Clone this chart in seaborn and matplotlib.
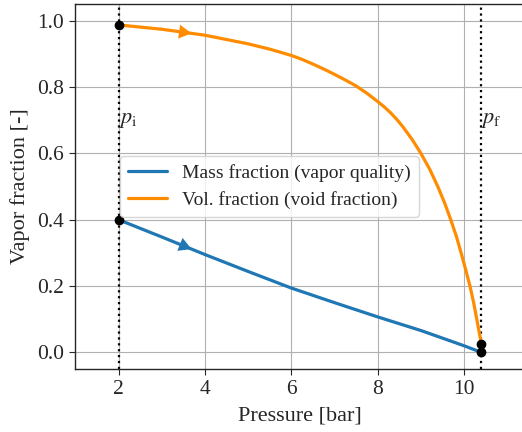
import numpy as np
import pandas as pd
import matplotlib
matplotlib.use("Agg")
import matplotlib.pyplot as plt
import seaborn as sns

# Initial and final pressures [bar]
p_initial = 2.0
p_final = 10.4

# Mass fraction (vapor quality) along the process
mass_p = [2.0, 3.0, 4.0, 5.0, 6.0, 7.0, 8.0, 9.0, 10.0, 10.4]
mass_frac = [0.400, 0.348, 0.295, 0.244, 0.194, 0.150, 0.107, 0.066, 0.020, 0.0]

# Volume fraction (void fraction) along the process
vol_p = [2.0, 3.0, 4.0, 5.0, 5.5, 6.0, 6.25, 6.5, 6.75, 7.0, 7.25, 7.5, 7.75,
         8.0, 8.15, 8.3, 8.45, 8.6, 8.8, 8.98, 9.2, 9.39, 9.55, 9.69, 9.82,
         9.93, 10.035, 10.135, 10.22, 10.29, 10.345, 10.4]
vol_frac = [0.987, 0.974, 0.956, 0.930, 0.914, 0.895, 0.883, 0.869, 0.854,
            0.838, 0.821, 0.803, 0.781, 0.756, 0.740, 0.722, 0.701, 0.677,
            0.641, 0.604, 0.553, 0.500, 0.450, 0.400, 0.350, 0.300, 0.250,
            0.200, 0.150, 0.102, 0.063, 0.026]

series_labels = ["Mass fraction (vapor quality)", "Vol. fraction (void fraction)"]
series_colors = ["#1f77b4", "darkorange"]

SERIF = ["Liberation Serif", "DejaVu Serif"]

sns.set_style("ticks")
plt.rcParams["font.family"] = SERIF
plt.rcParams["mathtext.fontset"] = "stix"

fig = plt.figure(figsize=(5.22, 4.32), dpi=100)
ax = fig.add_axes([0.1443, 0.1458, 0.8607, 0.8449])

df = pd.concat([
    pd.DataFrame({"p": mass_p, "frac": mass_frac, "series": series_labels[0]}),
    pd.DataFrame({"p": vol_p, "frac": vol_frac, "series": series_labels[1]}),
])

sns.lineplot(data=df, x="p", y="frac", hue="series", hue_order=series_labels,
             palette=series_colors, sort=False, estimator=None, lw=2.3, ax=ax,
             zorder=3)

# Direction arrows along each curve
for xs, ys, c in [(mass_p, mass_frac, series_colors[0]),
                  (vol_p, vol_frac, series_colors[1])]:
    x0, x1 = 3.40, 3.69
    ax.annotate("", xy=(x1, np.interp(x1, xs, ys)),
                xytext=(x0, np.interp(x0, xs, ys)),
                arrowprops=dict(arrowstyle="-|>,head_length=0.45,head_width=0.25",
                                color=c, lw=0, mutation_scale=20,
                                shrinkA=0, shrinkB=0),
                zorder=4)

# Start and end states
for pv in (p_initial, p_final):
    ax.axvline(pv, color="k", ls=":", lw=1.6, zorder=2)
end_x = [mass_p[0], mass_p[-1], vol_p[0], vol_p[-1]]
end_y = [mass_frac[0], mass_frac[-1], vol_frac[0], vol_frac[-1]]
ax.plot(end_x, end_y, "o", color="k", ms=6, zorder=5)

ax.text(p_initial, 0.70, r"$p_\mathrm{i}$", fontsize=16, ha="left", va="center")
ax.text(p_final, 0.70, r"$p_\mathrm{f}$", fontsize=16, ha="left", va="center")

ax.set_xlim(1.0, 11.4)
ax.set_ylim(-0.05, 1.05)
ax.set_xticks([2, 4, 6, 8, 10])
ax.set_yticks([0.0, 0.2, 0.4, 0.6, 0.8, 1.0])
ax.set_yticklabels(["0.0", "0.2", "0.4", "0.6", "0.8", "1.0"])
ax.grid(True, color="#b0b0b0", lw=0.8)
ax.set_axisbelow(True)
ax.tick_params(labelsize=15.5, length=4, width=0.8, pad=4,
               labelfontfamily=SERIF[0])
for s in ax.spines.values():
    s.set_linewidth(1.0)
ax.set_xlabel("Pressure [bar]", fontsize=16, family=SERIF, labelpad=5)
ax.set_ylabel("Vapor fraction [-]", fontsize=16, family=SERIF, labelpad=5)

leg = ax.legend(loc="center left", bbox_to_anchor=(0.1, 0.5),
                prop={"family": SERIF, "size": 14}, frameon=True,
                handlelength=2.0, borderaxespad=0)
leg.get_frame().set_edgecolor("#cccccc")

fig.savefig("out.png", dpi=100)
